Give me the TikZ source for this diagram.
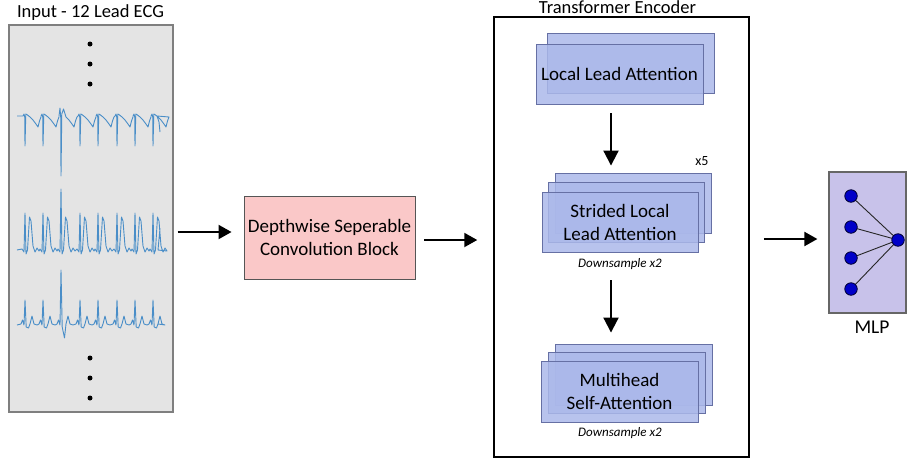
\documentclass[tikz,border=0pt]{standalone}
\usepackage{fontspec}
\setmainfont{Carlito}
\usetikzlibrary{arrows.meta}
\definecolor{panelfill}{HTML}{E4E4E4}
\definecolor{paneledge}{HTML}{7F7F7F}
\definecolor{convfill}{HTML}{FAC8C8}
\definecolor{convedge}{HTML}{555555}
\definecolor{boxfill}{HTML}{ABB8EA}
\definecolor{boxedge}{HTML}{6670A4}
\definecolor{mlpfill}{HTML}{C8C2EA}
\definecolor{mlpedge}{HTML}{666666}
\definecolor{neuron}{HTML}{0000C8}
\definecolor{ecgblue}{HTML}{4A8EC8}
\begin{document}
\begin{tikzpicture}[x=1pt,y=-1pt,
  arr/.style={line width=2pt,-{Triangle[length=13pt,width=14pt]}},
  varr/.style={line width=2pt,-{Triangle[length=15pt,width=15pt]}},
  blk/.style={draw=boxedge,fill=boxfill,fill opacity=0.85,text opacity=1,line width=0.9pt,inner sep=0pt,align=center,font=\fontsize{19}{23}\selectfont},
  ttl/.style={anchor=base,inner sep=0pt,font=\fontsize{18.5}{22}\selectfont},
  note/.style={inner sep=0pt,font=\fontsize{13}{15}\selectfont\itshape},
  ecg/.style={draw=ecgblue,line width=0.9pt,line join=round},
  dot/.style={circle,fill=black,inner sep=0pt,minimum size=5pt},
  neur/.style={circle,draw=black!80!blue,fill=neuron,line width=0.8pt,inner sep=0pt,minimum size=12.5pt},
  link/.style={draw=black!85,line width=0.9pt}]
\useasboundingbox (0,0) rectangle (907,459);

% ---------- input panel ----------
\node[draw=paneledge,fill=panelfill,line width=1.3pt,minimum width=164pt,minimum height=387pt,inner sep=0pt] (ecg) at (91,218.5) {};
\node[ttl] (ecgtitle) at (90.5,17) {Input - 12 Lead ECG};
\node[dot] (d1) at (90,44) {};
\node[dot] (d2) at (90,64) {};
\node[dot] (d3) at (90,84) {};
\node[dot] (d4) at (90,358) {};
\node[dot] (d5) at (90,378) {};
\node[dot] (d6) at (90,398) {};

% trace 1 (inverted)
\draw[ecg] (17,116) foreach \x/\h/\p in {25/146/114,43/146/114,61/176/108,80/146/114,98/146/114,117/146/114,135/146/114,153/146/114}
 { -- (\x-2,116) -- (\x-1,\p) -- (\x-0.3,117) -- (\x,\h) -- (\x+0.8,114) -- (\x+2.5,\p+1) -- (\x+5,117) -- (\x+8,120) -- (\x+11,124) -- (\x+13,127) -- (\x+14.5,121) -- (\x+16,117) }
 -- (157,116) -- (159,122) -- (160,132);
% trace 2
\draw[ecg] (17,250) foreach \x/\h in {25/213,43/213,61/189,80/213,98/213,117/213,135/213,153/213}
 { -- (\x-3,249) -- (\x-1,252) -- (\x,\h) -- (\x+1,254) -- (\x+2.5,250) -- (\x+4.5,217) -- (\x+6,221) -- (\x+8,246) -- (\x+10,252) -- (\x+12,248) -- (\x+14,251) }
 -- (158,250) -- (160,228);
% trace 3
\draw[ecg] (17,325) foreach \x/\h/\s in {25/300/328,43/300/328,61/270/338,80/300/328,98/300/328,117/300/328,135/300/328,153/300/328}
 { -- (\x-4,324) -- (\x-2.5,320) -- (\x-1,325) -- (\x,\h) -- (\x+1.2,327) -- (\x+3.5,\s) -- (\x+5,324) -- (\x+7,316) -- (\x+9,324) -- (\x+12,325) }
 -- (158,324) -- (160,316);

% ---------- conv block ----------
\node[draw=convedge,fill=convfill,line width=0.9pt,minimum width=171pt,minimum height=83pt,inner sep=0pt,align=center,font=\fontsize{19}{23}\selectfont] (conv) at (329.5,237.5) {Depthwise Seperable\\Convolution Block};

% ---------- transformer encoder ----------
\node[draw=black,line width=1.5pt,minimum width=255pt,minimum height=440pt,inner sep=0pt] (tenc) at (621.5,237) {};
\node[ttl] (tenctitle) at (617.5,13.5) {Transformer Encoder};

\node[blk,minimum width=167pt,minimum height=60pt] (lla1) at (630.5,63) {};
\node[blk,minimum width=167pt,minimum height=60pt] (lla) at (619.5,74) {Local Lead Attention};

\node[blk,minimum width=156pt,minimum height=60pt] (sla2) at (633,203) {};
\node[blk,minimum width=156pt,minimum height=60pt] (sla1) at (626.5,212.5) {};
\node[blk,minimum width=156pt,minimum height=60pt] (sla) at (620,222) {Strided Local\\Lead Attention};
\node[note] (ds1) at (620,264) {Downsample x2};
\node[inner sep=0pt,font=\fontsize{14}{16}\selectfont] (x5) at (702,161) {x5};

\node[blk,minimum width=157pt,minimum height=61pt] (mha2) at (633.5,374.5) {};
\node[blk,minimum width=157pt,minimum height=61pt] (mha1) at (626.5,383) {};
\node[blk,minimum width=157pt,minimum height=61pt] (mha) at (619.5,391.5) {Multihead\\Self-Attention};
\node[note] (ds2) at (620,433) {Downsample x2};

% ---------- MLP ----------
\node[draw=mlpedge,fill=mlpfill,line width=1.2pt,minimum width=77pt,minimum height=141pt,inner sep=0pt] (mlp) at (867.5,242.5) {};
\node[ttl,font=\fontsize{19.5}{22}\selectfont] (mlptitle) at (872,333) {MLP};
\coordinate (n1) at (851,196);
\coordinate (n2) at (851,227);
\coordinate (n3) at (851,258);
\coordinate (n4) at (851,289);
\coordinate (no) at (898,240);
\foreach \i in {1,...,4} {\draw[link] (n\i) -- (no);}
\foreach \i in {1,...,4} {\node[neur] (m\i) at (n\i) {};}
\node[neur] (mo) at (no) {};

% ---------- arrows ----------
\draw[arr] ([xshift=4pt]ecg.east |- 0,232) -- ([xshift=-12pt]conv.west |- 0,232);
\draw[arr] ([xshift=9pt]conv.east |- 0,240) -- ([xshift=-16pt]tenc.west |- 0,240);
\draw[arr] ([xshift=14pt]tenc.east |- 0,239) -- ([xshift=-11pt]mlp.west |- 0,239);
\draw[varr] ([yshift=-9pt]lla.south -| 611,0) -- ([yshift=7pt]sla2.north -| 611,0);
\draw[varr] ([yshift=-28pt]sla.south -| 611,0) -- ([yshift=11pt]mha2.north -| 611,0);
\end{tikzpicture}
\end{document}
